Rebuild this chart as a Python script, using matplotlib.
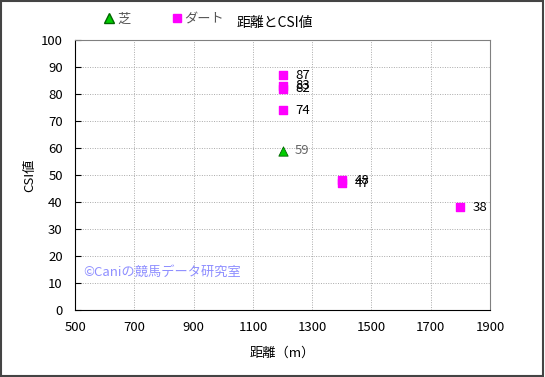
import matplotlib.pyplot as plt
from matplotlib.lines import Line2D
from matplotlib.patches import Rectangle

plt.rcParams['font.family'] = ['Noto Sans CJK JP', 'DejaVu Sans']

turf_dist = [1200]
turf_csi = [59]
dirt_dist = [1200, 1200, 1200, 1200, 1400, 1400, 1800]
dirt_csi = [87, 83, 82, 74, 48, 47, 38]

x_ticks = [500, 700, 900, 1100, 1300, 1500, 1700, 1900]
y_ticks = list(range(0, 101, 10))

fig = plt.figure(figsize=(5.45, 3.77), dpi=100)
ax = fig.add_axes([0.138, 0.178, 0.761, 0.716])

ax.scatter(dirt_dist, dirt_csi, marker='s', s=30, color='#ff00ff', zorder=3)
ax.scatter(turf_dist, turf_csi, marker='^', s=45, color='#00cc00', edgecolor='#006600',
           linewidth=0.6, zorder=3)

for x, y in zip(dirt_dist, dirt_csi):
    ax.annotate(str(y), (x, y), xytext=(9, 0), textcoords='offset points',
                va='center', ha='left', fontsize=9.5, color='black')
for x, y in zip(turf_dist, turf_csi):
    ax.annotate(str(y), (x, y), xytext=(9, 0), textcoords='offset points',
                va='center', ha='left', fontsize=9.5, color='#666666')

ax.set_xlim(500, 1900)
ax.set_ylim(0, 100)
ax.set_xticks(x_ticks)
ax.set_yticks(y_ticks)
ax.tick_params(labelsize=9.5, length=4, direction='in')
ax.tick_params(axis='y', pad=9)
ax.tick_params(axis='x', length=0, pad=8)
ax.grid(True, color='#aaaaaa', linestyle=(0, (1, 1.5)), linewidth=0.7)
ax.set_axisbelow(True)
for side in ['left', 'bottom']:
    ax.spines[side].set_color('black')
for side in ['top', 'right']:
    ax.spines[side].set_color('#808080')

ax.set_xlabel('距離（m）', fontsize=9.5, labelpad=9)
ax.set_ylabel('CSI値', fontsize=9.5, labelpad=3)

fig.text(0.505, 0.94, '距離とCSI値', ha='center', va='center', fontsize=10)

handles = [
    Line2D([], [], marker='^', linestyle='none', color='#00cc00',
           markeredgecolor='#006600', markersize=7, label='芝'),
    Line2D([], [], marker='s', linestyle='none', color='#ff00ff',
           markersize=6, label='ダート'),
]
fig.legend(handles=handles, loc='center', bbox_to_anchor=(0.3, 0.948), ncol=2,
           frameon=False, fontsize=9.5, handletextpad=0.1, columnspacing=3.0,
           handlelength=1.0, labelcolor='#555555')

ax.text(0.02, 0.14, '©Caniの競馬データ研究室', transform=ax.transAxes,
        fontsize=9.5, color='#8f8fff', ha='left', va='center')

fig.patches.append(Rectangle((0.002, 0.003), 0.995, 0.994, transform=fig.transFigure,
                             fill=False, edgecolor='#444444', linewidth=1.5))

plt.savefig('out.png', dpi=100)
